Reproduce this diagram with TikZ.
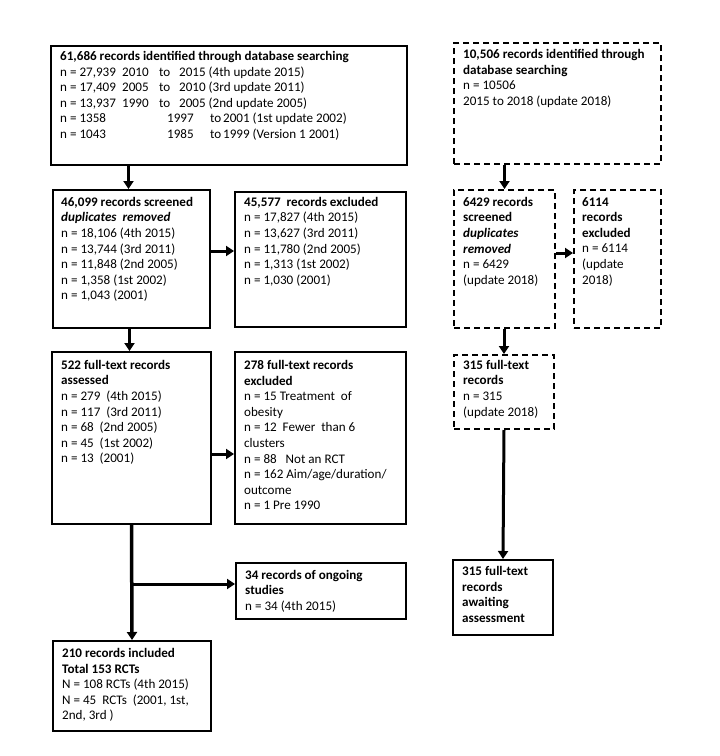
\documentclass[tikz,border=0pt]{standalone}
\usepackage{fontspec}
\setmainfont{Carlito}
\usetikzlibrary{arrows.meta,calc}
\tikzset{
  box/.style={draw, line width=2pt, rectangle, inner sep=0pt, anchor=north west},
  dbox/.style={box, dash pattern=on 6pt off 4pt},
  txt/.style={anchor=north west, inner sep=0pt, align=left, font=\fontsize{13.1pt}{15.6pt}\selectfont},
  arr/.style={line width=3pt, -{Triangle[width=10pt,length=8pt]}}
}
\begin{document}
\begin{tikzpicture}[x=1pt,y=-1pt]
\useasboundingbox (0,0) rectangle (720,756);
\fill[white] (0,0) rectangle (720,756);
% boxes
\node[box, minimum width=356pt, minimum height=119pt] (a) at (50,45) {};
\node[dbox, minimum width=207pt, minimum height=121pt] (b) at (453,42) {};
\node[box, minimum width=157pt, minimum height=138pt] (c) at (52,189) {};
\node[box, minimum width=171pt, minimum height=135pt] (d) at (234,191) {};
\node[dbox, minimum width=101pt, minimum height=138pt] (e) at (453,189) {};
\node[dbox, minimum width=87pt, minimum height=138pt] (f) at (573,189) {};
\node[box, minimum width=159pt, minimum height=172pt] (g) at (51,351) {};
\node[box, minimum width=171pt, minimum height=172pt] (h) at (234,351) {};
\node[dbox, minimum width=100pt, minimum height=74pt] (i) at (453,354) {};
\node[box, minimum width=100pt, minimum height=75pt] (j) at (452,559) {};
\node[box, minimum width=170pt, minimum height=56pt] (l) at (235,562) {};
\node[box, minimum width=158pt, minimum height=90pt] (k) at (52,640) {};
% texts
\node[txt] (ta) at ($(a.north west)+(10,6)$) {\textbf{61,686 records identified through database searching}\\
\makebox[62pt][l]{n = 27,939}\makebox[37pt][l]{2010}\makebox[20pt][l]{to}2015 (4th update 2015)\\
\makebox[62pt][l]{n = 17,409}\makebox[37pt][l]{2005}\makebox[20pt][l]{to}2010 (3rd update 2011)\\
\makebox[62pt][l]{n = 13,937}\makebox[37pt][l]{1990}\makebox[20pt][l]{to}2005 (2nd update 2005)\\
\makebox[107pt][l]{n = 1358}\makebox[43pt][l]{1997}\makebox[13pt][l]{to}2001 (1st update 2002)\\
\makebox[107pt][l]{n = 1043}\makebox[43pt][l]{1985}\makebox[13pt][l]{to}1999 (Version 1 2001)};
\node[txt] (tb) at ($(b.north west)+(10,7)$) {\textbf{10,506 records identified through}\\
\textbf{database searching}\\
n = 10506\\
2015 to 2018 (update 2018)};
\node[txt] (tc) at ($(c.north west)+(9,8)$) {\textbf{46,099 records screened}\\
\textbf{\textit{duplicates\ \ removed}}\\
n = 18,106 (4th 2015)\\
n = 13,744 (3rd 2011)\\
n = 11,848 (2nd 2005)\\
n = 1,358 (1st 2002)\\
n = 1,043 (2001)};
\node[txt] (td) at ($(d.north west)+(10,6)$) {\textbf{45,577\ \ records excluded}\\
n = 17,827 (4th 2015)\\
n = 13,627 (3rd 2011)\\
n = 11,780 (2nd 2005)\\
n = 1,313 (1st 2002)\\
n = 1,030 (2001)};
\node[txt] (te) at ($(e.north west)+(10,8)$) {\textbf{6429 records}\\
\textbf{screened}\\
\textbf{\textit{duplicates}}\\
\textbf{\textit{removed}}\\
n = 6429\\
(update 2018)};
\node[txt] (tf) at ($(f.north west)+(9,8)$) {\textbf{6114}\\
\textbf{records}\\
\textbf{excluded}\\
n = 6114\\
(update\\
2018)};
\node[txt] (tg) at ($(g.north west)+(10,9)$) {\textbf{522 full-text records}\\
\textbf{assessed}\\
n = 279\ \ (4th 2015)\\
n = 117\ \ (3rd 2011)\\
n = 68\ \ (2nd 2005)\\
n = 45\ \ (1st 2002)\\
n = 13\ \ (2001)};
\node[txt] (th) at ($(h.north west)+(10,9)$) {\textbf{278 full-text records}\\
\textbf{excluded}\\
n = 15 Treatment\ \ of\\
obesity\\
n = 12\ \ Fewer\ \ than 6\\
clusters\\
n = 88\ \ \ Not an RCT\\
n = 162 Aim/age/duration/\\
outcome\\
n = 1 Pre 1990};
\node[txt] (ti) at ($(i.north west)+(10,6)$) {\textbf{315 full-text}\\
\textbf{records}\\
n = 315\\
(update 2018)};
\node[txt] (tj) at ($(j.north west)+(10,7)$) {\textbf{315 full-text}\\
\textbf{records}\\
\textbf{awaiting}\\
\textbf{assessment}};
\node[txt] (tl) at ($(l.north west)+(10,8)$) {\textbf{34 records of ongoing}\\
\textbf{studies}\\
n = 34 (4th 2015)};
\node[txt] (tk) at ($(k.north west)+(10,8)$) {\textbf{210 records included}\\
\textbf{Total 153 RCTs}\\
N = 108 RCTs (4th 2015)\\
N = 45\ \ RCTs\ \ (2001, 1st,\\
2nd, 3rd )};
% connectors
\draw[arr] ([xshift=-3pt]c.north |- a.south) -- ([xshift=-3pt]c.north);
\draw[arr] (e.north |- b.south) -- (e.north);
\draw[arr] ([yshift=8pt]c.east) -- ([yshift=8pt]c.east -| d.west);
\draw[arr] ([yshift=6pt]e.east) -- ([yshift=6pt]e.east -| f.west);
\draw[arr] ([xshift=-2pt]g.north |- c.south) -- ([xshift=-2pt]g.north);
\draw[arr] (i.north |- e.south) -- (i.north);
\draw[arr] ([yshift=-16pt]g.east) -- ([yshift=-16pt]g.east -| h.west);
\draw[arr] (i.south) -- (j.north);
\draw[arr, line width=3.5pt] (g.south) -- (k.north);
\coordinate (br) at ([yshift=7pt]l.west -| g.south);
\draw[arr] (br) -- ([yshift=7pt]l.west);
\end{tikzpicture}
\end{document}
